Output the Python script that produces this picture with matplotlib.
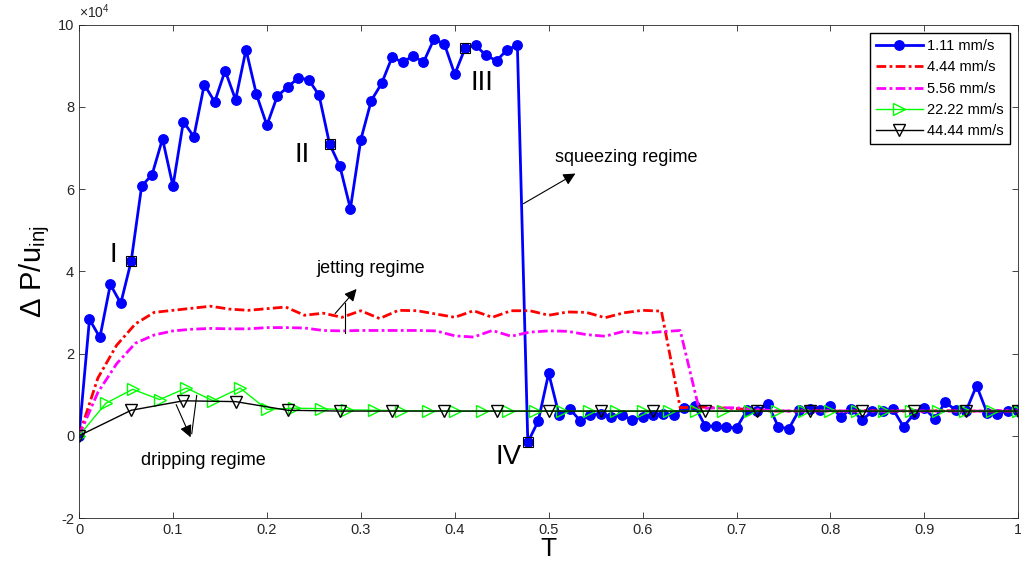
import matplotlib
matplotlib.use("Agg")
import matplotlib.pyplot as plt
import numpy as np
from matplotlib.ticker import FuncFormatter

plt.rcParams["font.family"] = ["Liberation Sans", "DejaVu Sans"]
plt.rcParams["axes.unicode_minus"] = False
plt.rcParams["mathtext.fontset"] = "custom"
plt.rcParams["mathtext.rm"] = "Liberation Sans"

# pressure drop / injection velocity, in units of 1e4
dp_111 = [0, 2.83, 2.39, 3.68, 3.22, 4.25, 6.07, 6.35, 7.22, 6.07,
          7.64, 7.27, 8.54, 8.12, 8.88, 8.17, 9.39, 8.30, 7.55, 8.26,
          8.48, 8.70, 8.66, 8.28, 7.10, 6.55, 5.52, 7.20, 8.15, 8.57,
          9.21, 9.08, 9.24, 9.08, 9.64, 9.53, 8.79, 9.43, 9.49, 9.25,
          9.12, 9.38, 9.50, -0.16, 0.36, 1.52, 0.50, 0.66, 0.37, 0.50,
          0.54, 0.45, 0.50, 0.39, 0.46, 0.50, 0.54, 0.51, 0.68, 0.72,
          0.24, 0.23, 0.21, 0.19, 0.62, 0.60, 0.77, 0.22, 0.17, 0.62,
          0.64, 0.62, 0.72, 0.46, 0.66, 0.38, 0.59, 0.59, 0.64, 0.22,
          0.53, 0.67, 0.41, 0.82, 0.62, 0.61, 1.22, 0.56, 0.54, 0.61,
          0.59]
dp_444 = [0, 1.40, 2.20, 2.72, 3.00, 3.05, 3.10, 3.15, 3.08, 3.05,
          3.09, 3.13, 2.93, 2.98, 2.88, 3.04, 2.85, 3.05, 3.04, 2.96,
          2.88, 3.04, 2.88, 3.04, 3.04, 2.93, 3.01, 3.00, 2.87, 2.99,
          3.05, 3.03, 0.68, 0.70, 0.68, 0.66, 0.62, 0.60, 0.60, 0.61,
          0.60, 0.60, 0.61, 0.60, 0.60, 0.60, 0.61, 0.60, 0.60, 0.60,
          0.60]
dp_556 = [0, 1.05, 1.75, 2.25, 2.45, 2.55, 2.59, 2.61, 2.60, 2.60,
          2.63, 2.63, 2.62, 2.56, 2.55, 2.56, 2.56, 2.56, 2.56, 2.55,
          2.43, 2.40, 2.56, 2.42, 2.52, 2.55, 2.54, 2.46, 2.42, 2.54,
          2.49, 2.53, 2.56, 0.66, 0.68, 0.68, 0.64, 0.61, 0.60, 0.60,
          0.61, 0.60, 0.60, 0.60, 0.61, 0.60, 0.60, 0.60, 0.60, 0.61,
          0.60]
dp_2222 = [0, 0.79, 1.13, 0.88, 1.16, 0.85, 1.16, 0.64, 0.67, 0.66,
           0.63, 0.62, 0.61, 0.61, 0.60, 0.60, 0.60, 0.60, 0.60, 0.60,
           0.60, 0.60, 0.60, 0.60, 0.60, 0.60, 0.60, 0.60, 0.60, 0.60,
           0.60, 0.60, 0.60, 0.60, 0.60, 0.60]
dp_4444 = [0, 0.62, 0.85, 0.83, 0.62, 0.60, 0.60, 0.60, 0.60, 0.60,
           0.60, 0.60, 0.60, 0.60, 0.60, 0.60, 0.60, 0.60, 0.60]

labels = ["1.11 mm/s", "4.44 mm/s", "5.56 mm/s", "22.22 mm/s", "44.44 mm/s"]

# points marked I..IV on the 1.11 mm/s curve (indices into dp_111)
stage_idx = [5, 24, 37, 43]
stage_names = ["I", "II", "III", "IV"]
stage_text_pos = [(0.037, 4.4), (0.238, 6.82), (0.429, 8.57), (0.457, -0.52)]

scale = 1e4


def series(vals):
    v = np.array(vals) * scale
    return np.linspace(0, 1, len(v)), v


fig = plt.figure(figsize=(10.21, 5.78), dpi=100)
ax = fig.add_axes([0.0774, 0.1038, 0.92, 0.8538])

t1, y1 = series(dp_111)
t2, y2 = series(dp_444)
t3, y3 = series(dp_556)
t4, y4 = series(dp_2222)
t5, y5 = series(dp_4444)

dashdot = (0, (3.5, 1.2, 1.0, 1.2))
ax.plot(t1, y1, "-o", color="blue", lw=2, ms=6.8, label=labels[0])
ax.plot(t2, y2, color="red", lw=2, ls=dashdot, label=labels[1])
ax.plot(t3, y3, color="magenta", lw=2, ls=dashdot, label=labels[2])
ax.plot(t4, y4, "->", color=(0, 1, 0), lw=1, ms=8, mfc="none", mew=1, label=labels[3])
ax.plot(t5, y5, "-v", color="black", lw=1, ms=8, mfc="none", mew=1, label=labels[4])

# stage markers
for idx, name, pos in zip(stage_idx, stage_names, stage_text_pos):
    ax.plot(t1[idx], y1[idx], "s", ms=7.5, mfc="none", mec="black", mew=0.8, zorder=5)
    ax.text(pos[0], pos[1] * scale, name, fontsize=20, ha="center", va="center")

# regime annotations
arrow = dict(arrowstyle="-|>", color="black", lw=0.8, mutation_scale=18)
ax.text(0.5824, 6.77 * scale, "squeezing regime", fontsize=13, ha="center", va="center")
ax.annotate("", xy=(0.531, 6.41 * scale), xytext=(0.4706, 5.61 * scale), arrowprops=arrow)

ax.text(0.311, 4.07 * scale, "jetting regime", fontsize=13, ha="center", va="center")
ax.annotate("", xy=(0.2974, 3.62 * scale), xytext=(0.2707, 2.92 * scale), arrowprops=arrow)
ax.plot([0.2832, 0.2832], [2.50 * scale, 3.22 * scale], color="black", lw=0.8)

ax.text(0.1328, -0.6 * scale, "dripping regime", fontsize=13, ha="center", va="center")
ax.annotate("", xy=(0.120, -0.10 * scale), xytext=(0.1022, 0.82 * scale), arrowprops=arrow)
ax.plot([0.1253, 0.1200], [0.98 * scale, 0.05 * scale], color="black", lw=0.8)

ax.set_xlim(0, 1)
ax.set_ylim(-2 * scale, 10 * scale)
ax.set_xticks(np.arange(0, 1.01, 0.1))
ax.set_yticks(np.arange(-2, 10.1, 2) * scale)
ax.xaxis.set_major_formatter(FuncFormatter(lambda v, _: f"{v:g}"))
ax.yaxis.set_major_formatter(FuncFormatter(lambda v, _: f"{v / scale:g}"))
ax.text(0.0, 1.008, r"$\times$10$^{4}$", transform=ax.transAxes, fontsize=10,
        color="0.15", ha="left", va="bottom")

ax.tick_params(direction="in", length=4, width=0.6, top=True, right=True,
               labelsize=10.5, colors="0.15")
for sp in ax.spines.values():
    sp.set_linewidth(0.6)
    sp.set_color("0.15")

ax.set_xlabel("T", fontsize=19, labelpad=0)
ax.set_ylabel("Δ P/u$_\\mathregular{inj}$", fontsize=21, labelpad=4)

ax.legend(loc="upper right", fontsize=10.5, handlelength=3.2, fancybox=False,
          edgecolor="black", framealpha=1, borderaxespad=0.6,
          labelspacing=0.5, borderpad=0.4, handletextpad=0.3)

fig.savefig("out.png", dpi=100)
